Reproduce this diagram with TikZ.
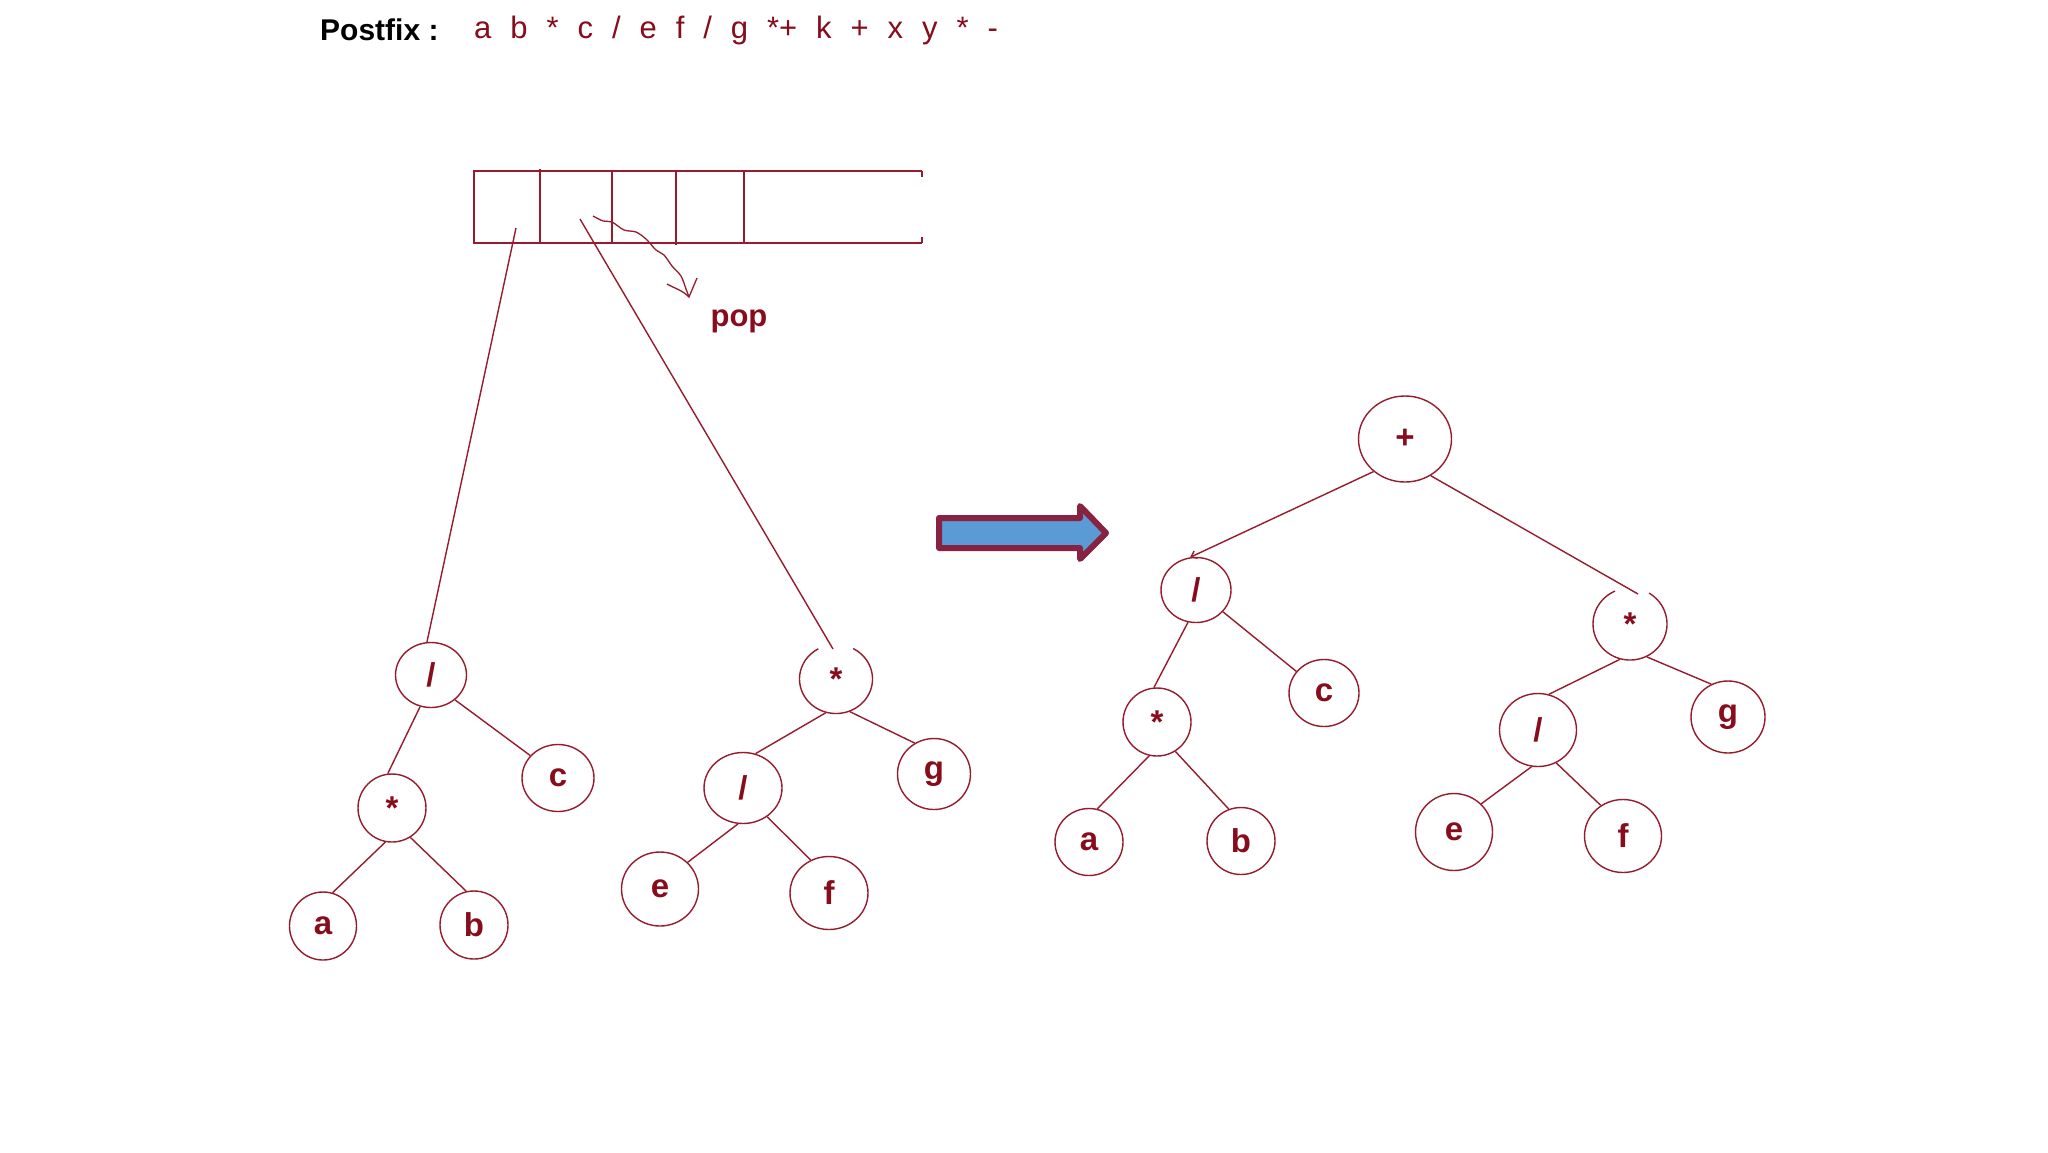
\documentclass[tikz,border=0pt]{standalone}
\usepackage{fontspec}
\setmainfont{Liberation Sans}
\newfontfamily\seqfont[WordSpace=2.2]{Liberation Sans}
\usetikzlibrary{shapes.geometric,arrows.meta}
\definecolor{dred}{RGB}{135,12,28}
\definecolor{lred}{RGB}{150,28,45}
\definecolor{arrowedge}{RGB}{135,35,65}
\definecolor{arrowfill}{RGB}{91,155,213}
\tikzset{
  tn/.style={ellipse,draw=lred,line width=1.4pt,inner sep=0pt,text=dred,
    font=\bfseries\fontsize{33}{33}\selectfont},
  tnopen/.style={tn,draw=none},
  edge/.style={draw=lred,line width=1.4pt},
  stackline/.style={draw=lred,line width=2pt},
}
\begin{document}
\begin{tikzpicture}[x=1pt,y=-1pt]
\useasboundingbox[fill=white] (0,0) rectangle (2048,1152);

% header
\node[anchor=west,font=\bfseries\fontsize{30}{30}\selectfont,inner sep=0pt] (lbl) at (320,30) {Postfix :};
\node[anchor=west,text=dred,font=\seqfont\fontsize{31}{31}\selectfont,inner sep=0pt] (seq) at (474,30) {a b * c / e f / g *+ k + x y * -};

% stack
\draw[stackline] (922,171) -- (474,171) -- (474,243) -- (922,243);
\draw[stackline] (922,171) -- (922,177);
\draw[stackline] (922,237) -- (922,243);
\draw[stackline] (540,169) -- (540,243);
\draw[stackline] (612,171) -- (612,243);
\draw[stackline] (676,171) -- (676,245);
\draw[stackline] (744,171) -- (744,243);

% left tree 1
\node[tn,minimum width=71pt,minimum height=65pt] (Aroot) at (431,675) {/};
\node[tn,minimum width=72pt,minimum height=67pt] (Ac) at (558,778) {c};
\node[tn,minimum width=68pt,minimum height=68pt] (Astar) at (392,808) {*};
\node[tn,minimum width=67pt,minimum height=68pt] (Aa) at (323,926) {a};
\node[tn,minimum width=68pt,minimum height=68pt] (Ab) at (474,925) {b};
\draw[edge] (Aroot.251) -- (Astar.97);
\draw[edge] (Aroot.314) -- (Ac.141);
\draw[edge] (Astar.259) -- (Aa.74);
\draw[edge] (Astar.302) -- (Ab.103);

% tree 2 (root circle open at the top)
\node[tnopen,minimum width=73pt,minimum height=69pt] (Bstar) at (836,679) {*};
\draw[edge] plot[domain=119:422,samples=80,variable=\t] ({836+36.5*cos(\t)},{679-34.5*sin(\t)});
\node[tn,minimum width=78pt,minimum height=71pt] (Bslash) at (743,788) {/};
\node[tn,minimum width=73pt,minimum height=71pt] (Bg) at (934,774) {g};
\node[tn,minimum width=77pt,minimum height=74pt] (Be) at (660,889) {e};
\node[tn,minimum width=78pt,minimum height=73pt] (Bf) at (829,893) {f};
\draw[edge] (Bstar.253) -- (Bslash.70);
\draw[edge] (Bstar.293) -- (Bg.122);
\draw[edge] (Bslash.262) -- (Be.44);
\draw[edge] (Bslash.310) -- (Bf.119);

% pointers from stack
\coordinate (p1) at (516,228);
\coordinate (p2) at (580,219);
\coordinate (p2end) at (833,649);
\draw[edge] (p1) -- (Aroot.97);
\draw[edge] (p2) -- (p2end);

% pop arrow
\coordinate (popS) at (593,216);
\coordinate (popT) at (689,297);
\draw[edge,line width=1.3pt] plot[smooth] coordinates {(popS) (603,221) (612,222) (624,230) (636,232) (646,239) (656,250) (664,255) (672,266) (681,276) (686,289) (popT)};
\draw[edge,line width=1.3pt] (667,284) .. controls (676,289) and (682,290) .. (popT) -- (697,278);
\node[text=dred,font=\bfseries\fontsize{31}{31}\selectfont,inner sep=0pt] (pop) at (739,321) {pop};

% blue arrow
\draw[draw=arrowedge,fill=arrowfill,line width=6pt,line join=round]
  (939,518) -- (1080,518) -- (1080,506) -- (1106,533) -- (1080,559) -- (1080,548) -- (939,548) -- cycle;

% right tree
\node[tn,minimum width=93pt,minimum height=86pt] (Cplus) at (1405,439) {+};
\node[tn,minimum width=70pt,minimum height=65pt] (Cslash) at (1196,590) {/};
\node[tn,minimum width=70pt,minimum height=67pt] (Cc) at (1324,693) {c};
\node[tn,minimum width=68pt,minimum height=68pt] (Cstar) at (1157,722) {*};
\node[tn,minimum width=68pt,minimum height=67pt] (Ca) at (1089,842) {a};
\node[tn,minimum width=68pt,minimum height=67pt] (Cb) at (1241,841) {b};
\node[tnopen,minimum width=74pt,minimum height=72pt] (Dstar) at (1630,624) {*};
\draw[edge] plot[domain=114:419,samples=80,variable=\t] ({1630+37*cos(\t)},{624-36*sin(\t)});
\node[tn,minimum width=77pt,minimum height=73pt] (Dslash) at (1538,730) {/};
\node[tn,minimum width=74pt,minimum height=72pt] (Dg) at (1728,717) {g};
\node[tn,minimum width=77pt,minimum height=77pt] (De) at (1454,832) {e};
\node[tn,minimum width=77pt,minimum height=73pt] (Df) at (1623,836) {f};
\coordinate (dend) at (1638,594);
\draw[edge,-{Straight Barb[length=5pt,width=8pt]}] (Cplus.226) -- (Cslash.100);
\draw[edge] (Cplus.305) -- (dend);
\draw[edge] (Cslash.256) -- (Cstar.95);
\draw[edge] (Cslash.321) -- (Cc.142);
\draw[edge] (Cstar.257) -- (Ca.76);
\draw[edge] (Cstar.302) -- (Cb.111);
\draw[edge] (Dstar.254) -- (Dslash.73);
\draw[edge] (Dstar.297) -- (Dg.117);
\draw[edge] (Dslash.260) -- (De.46);
\draw[edge] (Dslash.299) -- (Df.126);
\end{tikzpicture}
\end{document}
